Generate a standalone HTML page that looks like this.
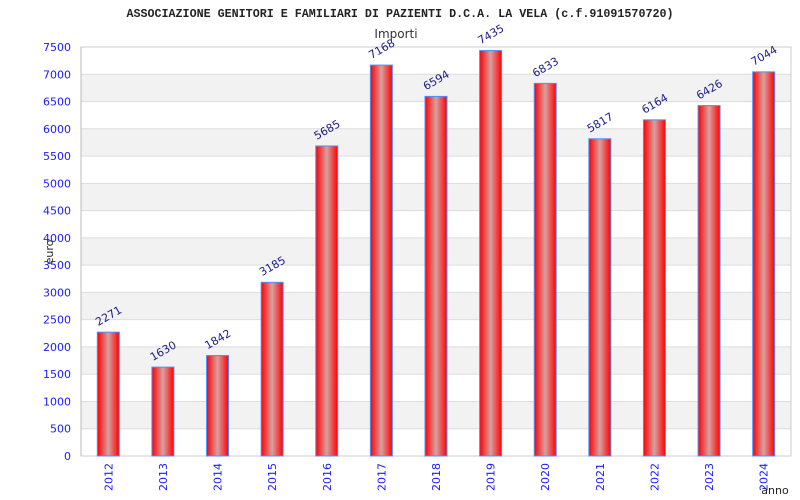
<!DOCTYPE html>
<html><head><meta charset="utf-8"><style>
body{margin:0;background:#fff;width:800px;height:500px;overflow:hidden}
svg{display:block}
</style></head><body>
<svg id="chart" width="800" height="500" xmlns="http://www.w3.org/2000/svg">
<defs>
<linearGradient id="bg" x1="0" x2="1" y1="0" y2="0">
<stop offset="0" stop-color="#ff0000"/><stop offset="0.5" stop-color="#d8a0a0"/><stop offset="1" stop-color="#ff0000"/>
</linearGradient>
</defs>
<text x="400" y="17" text-anchor="middle" font-family="Liberation Mono, monospace" font-weight="bold" font-size="11.7" fill="#222">ASSOCIAZIONE GENITORI E FAMILIARI DI PAZIENTI D.C.A. LA VELA (c.f.91091570720)</text>
<text x="396" y="38" text-anchor="middle" font-family="DejaVu Sans, sans-serif" font-size="12" fill="#333">Importi</text>
<text transform="translate(53,252) rotate(-90)" text-anchor="middle" font-family="DejaVu Sans, sans-serif" font-size="11" fill="#222">euro</text>
<text x="775" y="494" text-anchor="middle" font-family="DejaVu Sans, sans-serif" font-size="11" fill="#222">anno</text>
<g id="plot"></g>
</svg>
<script>
const categories=["2012","2013","2014","2015","2016","2017","2018","2019","2020","2021","2022","2023","2024"];
const values=[2271,1630,1842,3185,5685,7168,6594,7435,6833,5817,6164,6426,7044];
const yTicks=[0,500,1000,1500,2000,2500,3000,3500,4000,4500,5000,5500,6000,6500,7000,7500];
const L=81,R=791,T=47,B=456,YMAX=7500;
const NS="http://www.w3.org/2000/svg";
const g=document.getElementById('plot');
const y=v=>B-(v/YMAX)*(B-T);
const step=(R-L)/categories.length;
const x=i=>L+step*(i+0.5);
function mk(t,a){const e=document.createElementNS(NS,t);for(const k in a)e.setAttribute(k,a[k]);g.appendChild(e);return e;}
for(let i=0;i<yTicks.length-1;i++){
  const r=mk('rect',{x:L,y:y(yTicks[i+1]),width:R-L,height:y(yTicks[i])-y(yTicks[i+1]),fill:(i%2===1)?'#f2f2f2':'#fff'});
  
  
}
yTicks.forEach(v=>{
  const l=mk('line',{x1:L,x2:R,y1:y(v),y2:y(v),stroke:'#ddd','stroke-width':1});
  
  
  const t=mk('text',{x:L-10,y:y(v)+4,'text-anchor':'end','font-family':'DejaVu Sans, sans-serif','font-size':11,fill:'#1a1aff'});
  t.textContent=v;
  
  
});
const fr=mk('rect',{x:L,y:T,width:R-L,height:B-T,fill:'none',stroke:'#ccc'});


const ax=mk('line',{x1:L,x2:L,y1:T,y2:B,stroke:'#bbb'});


categories.forEach((c,i)=>{
  const cx=x(i);
  const b=mk('rect',{x:cx-11,y:y(values[i]),width:22,height:B-y(values[i]),fill:'url(#bg)',stroke:'#4a90ff','stroke-width':1});
  
  
  const vl=mk('text',{transform:`translate(${cx-10},${y(values[i])-6}) rotate(-30)`,'font-family':'DejaVu Sans, sans-serif','font-size':11,fill:'#1a1a8a'});
  vl.textContent=values[i];
  
  
  const xl=mk('text',{transform:`translate(${cx+4},${B+7}) rotate(-90)`,'text-anchor':'end','font-family':'DejaVu Sans, sans-serif','font-size':11,fill:'#1a1aff'});
  xl.textContent=c;
  
  
});
</script>
</body></html>
